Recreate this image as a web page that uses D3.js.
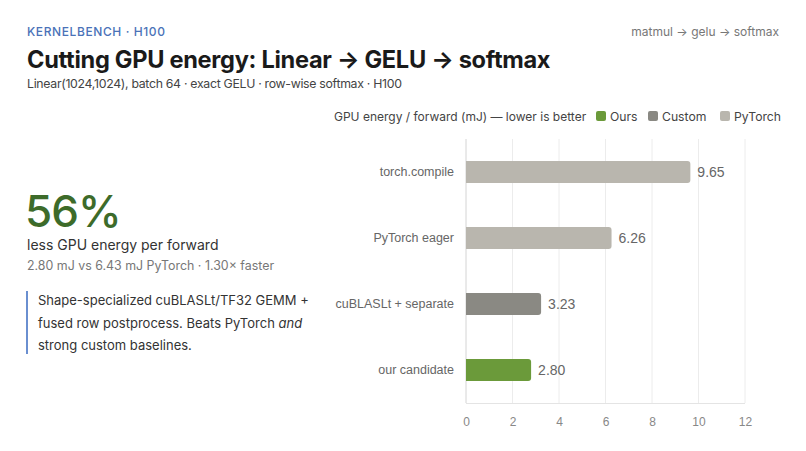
<!DOCTYPE html>
<html><head><meta charset="utf-8">
<script src="https://cdn.jsdelivr.net/npm/d3@7"></script>
<style>
html,body{margin:0;padding:0;background:#fff;}
svg{display:block;}
</style></head>
<body>
<svg id="c" width="806" height="451"></svg>
<script>
const categories = ["torch.compile", "PyTorch eager", "cuBLASLt + separate", "our candidate"];
const values = [9.65, 6.26, 3.23, 2.80];
const groups = ["PyTorch", "PyTorch", "Custom", "Ours"];
const legendLabels = ["Ours", "Custom", "PyTorch"];
const xTicks = [0, 2, 4, 6, 8, 10, 12];
const colors = {Ours: "#6b9a3a", Custom: "#8a8983", PyTorch: "#b9b6ae"};

const svg = d3.select("#c");
const sans = "Inter, 'Liberation Sans', sans-serif";
const arial = "'Liberation Sans', Arial, sans-serif";

// Header
svg.append("text").attr("x", 27).attr("y", 36).text("KERNELBENCH · H100")
  .attr("font-family", sans).attr("font-size", 12).attr("font-weight", 500)
  .attr("letter-spacing", 0.6).attr("fill", "#4a72b8");
svg.append("text").attr("x", 27).attr("y", 68).text("Cutting GPU energy: Linear → GELU → softmax")
  .attr("font-family", sans).attr("font-size", 23.6).attr("font-weight", 700)
  .attr("letter-spacing", -0.3).attr("fill", "#1a1a1a");
svg.append("text").attr("x", 27).attr("y", 88).text("Linear(1024,1024), batch 64 · exact GELU · row-wise softmax · H100")
  .attr("font-family", sans).attr("font-size", 12.3).attr("letter-spacing", -0.3).attr("fill", "#444");
svg.append("text").attr("x", 779).attr("y", 36).attr("text-anchor", "end").text("matmul → gelu → softmax")
  .attr("font-family", sans).attr("font-size", 12).attr("fill", "#777");

// Left panel
svg.append("text").attr("x", 25).attr("y", 227).text("56%")
  .attr("font-family", sans).attr("font-size", 44).attr("font-weight", 500)
  .attr("letter-spacing", -1).attr("fill", "#3d6b2a");
svg.append("text").attr("x", 27).attr("y", 250).text("less GPU energy per forward")
  .attr("font-family", sans).attr("font-size", 14).attr("fill", "#333");
svg.append("text").attr("x", 27).attr("y", 270).text("2.80 mJ vs 6.43 mJ PyTorch · 1.30× faster")
  .attr("font-family", sans).attr("font-size", 12.4).attr("fill", "#777");
svg.append("rect").attr("x", 26).attr("y", 291).attr("width", 2).attr("height", 63).attr("fill", "#6a8fd0");
const note = svg.append("text").attr("font-family", sans).attr("font-size", 13).attr("fill", "#333");
note.append("tspan").attr("x", 38).attr("y", 305).text("Shape-specialized cuBLASLt/TF32 GEMM +");
const l2 = note.append("tspan").attr("x", 38).attr("y", 328);
l2.append("tspan").text("fused row postprocess. Beats PyTorch ");
l2.append("tspan").attr("font-style", "italic").text("and");
note.append("tspan").attr("x", 38).attr("y", 350).text("strong custom baselines.");

// Chart
const x = d3.scaleLinear().domain([0, 12]).range([466, 745]);
const y = d3.scaleBand().domain(categories).range([139, 403]).paddingInner(0.667).paddingOuter(0.333);

const g = svg.append("g");
g.selectAll("line.grid").data(xTicks).join("line")
  .attr("x1", d => x(d)).attr("x2", d => x(d)).attr("y1", 139).attr("y2", 403)
  .attr("stroke", d => d === 0 ? "#d4d4d4" : "#ececec").attr("stroke-width", 1);
g.append("line").attr("x1", 466).attr("x2", 745).attr("y1", 403.5).attr("y2", 403.5)
  .attr("stroke", "#e4e4e4");

// x axis
const xa = svg.append("g").attr("transform", "translate(0,403)")
  .call(d3.axisBottom(x).tickValues(xTicks).tickSize(0).tickPadding(14).tickFormat(d3.format("d")));
xa.select(".domain").remove();
xa.selectAll("text").attr("font-family", arial).attr("font-size", 12).attr("fill", "#888");

// y axis labels
const ya = svg.append("g").attr("transform", "translate(466,0)")
  .call(d3.axisLeft(y).tickSize(0).tickPadding(12));
ya.select(".domain").remove();
ya.selectAll("text").attr("font-family", arial).attr("font-size", 12.5).attr("fill", "#666");

// bars
svg.selectAll("path.bar").data(categories).join("path")
  .attr("d", (c, i) => {
    const x0 = x(0), x1 = x(values[i]), y0 = y(c), h = y.bandwidth(), r = 3;
    return `M${x0},${y0}H${x1 - r}Q${x1},${y0} ${x1},${y0 + r}V${y0 + h - r}Q${x1},${y0 + h} ${x1 - r},${y0 + h}H${x0}Z`;
  })
  .attr("fill", (c, i) => colors[groups[i]]);

svg.selectAll("text.val").data(categories).join("text")
  .attr("x", (c, i) => x(values[i]) + 7)
  .attr("y", c => y(c) + y.bandwidth() / 2 + 5)
  .text((c, i) => values[i].toFixed(2))
  .attr("font-family", arial).attr("font-size", 14).attr("fill", "#666");

// legend
const lg = svg.append("g");
lg.append("text").attr("x", 334).attr("y", 121).text("GPU energy / forward (mJ) — lower is better")
  .attr("font-family", sans).attr("font-size", 12).attr("fill", "#444");
const legX = [596, 648, 720];
legendLabels.forEach((k, i) => {
  lg.append("rect").attr("x", legX[i]).attr("y", 111).attr("width", 10).attr("height", 10).attr("rx", 2)
    .attr("fill", colors[k]);
  lg.append("text").attr("x", legX[i] + 14).attr("y", 121).text(k)
    .attr("font-family", sans).attr("font-size", 12.2).attr("fill", "#444");
});
</script>
</body></html>
